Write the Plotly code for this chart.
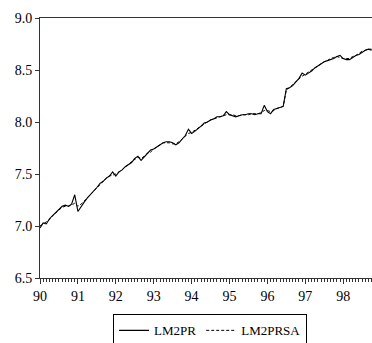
import plotly.graph_objects as go

# monthly observations 1990:01 - 1998:10
lm2pr = [6.98, 7.03, 7.02, 7.07, 7.10, 7.13, 7.15, 7.19, 7.20, 7.19, 7.21, 7.30,
         7.14, 7.19, 7.23, 7.27, 7.30, 7.33, 7.37, 7.41, 7.43, 7.46, 7.48, 7.52,
         7.48, 7.52, 7.54, 7.57, 7.59, 7.61, 7.65, 7.67, 7.63, 7.66, 7.69, 7.73,
         7.74, 7.76, 7.78, 7.80, 7.81, 7.81, 7.80, 7.78, 7.80, 7.84, 7.87, 7.93,
         7.89, 7.91, 7.94, 7.96, 7.99, 8.00, 8.02, 8.03, 8.05, 8.05, 8.06, 8.10,
         8.07, 8.06, 8.05, 8.06, 8.07, 8.07, 8.08, 8.08, 8.07, 8.08, 8.08, 8.16,
         8.10, 8.08, 8.12, 8.13, 8.14, 8.15, 8.32, 8.33, 8.35, 8.38, 8.42, 8.47,
         8.45, 8.47, 8.49, 8.52, 8.54, 8.56, 8.58, 8.59, 8.60, 8.61, 8.63, 8.64,
         8.61, 8.60, 8.60, 8.62, 8.64, 8.65, 8.67, 8.69, 8.70, 8.69]

lm2prsa = [7.00, 7.02, 7.04, 7.06, 7.10, 7.13, 7.16, 7.18, 7.19, 7.19, 7.20, 7.22,
           7.19, 7.21, 7.24, 7.27, 7.30, 7.33, 7.37, 7.40, 7.43, 7.46, 7.48, 7.49,
           7.50, 7.52, 7.54, 7.57, 7.59, 7.62, 7.64, 7.66, 7.65, 7.67, 7.70, 7.71,
           7.74, 7.76, 7.78, 7.80, 7.80, 7.80, 7.79, 7.79, 7.81, 7.84, 7.86, 7.89,
           7.90, 7.92, 7.94, 7.96, 7.98, 8.00, 8.02, 8.03, 8.04, 8.05, 8.06, 8.07,
           8.07, 8.07, 8.06, 8.06, 8.07, 8.07, 8.07, 8.08, 8.08, 8.08, 8.09, 8.11,
           8.11, 8.10, 8.11, 8.13, 8.14, 8.15, 8.31, 8.33, 8.36, 8.39, 8.42, 8.44,
           8.46, 8.48, 8.50, 8.52, 8.54, 8.56, 8.58, 8.59, 8.61, 8.62, 8.63, 8.62,
           8.61, 8.61, 8.61, 8.63, 8.64, 8.66, 8.68, 8.69, 8.70, 8.70]

start_year = 90
x_vals = [start_year + i / 12 for i in range(len(lm2pr))]

x_tick_vals = [90, 91, 92, 93, 94, 95, 96, 97, 98]
x_tick_text = ["90", "91", "92", "93", "94", "95", "96", "97", "98"]
y_tick_vals = [6.5, 7.0, 7.5, 8.0, 8.5, 9.0]
y_tick_text = ["6.5", "7.0", "7.5", "8.0", "8.5", "9.0"]

font_family = "Liberation Serif, Times New Roman, serif"

fig = go.Figure()
fig.add_trace(go.Scatter(x=x_vals, y=lm2pr, mode="lines", name="LM2PR",
                         line=dict(color="black", width=1.1)))
fig.add_trace(go.Scatter(x=x_vals, y=lm2prsa, mode="lines", name="LM2PRSA",
                         line=dict(color="black", width=1, dash="3px,2px")))

fig.update_layout(
    width=372, height=343,
    margin=dict(l=40, r=0, t=17.5, b=64.7, autoexpand=False),
    paper_bgcolor="white", plot_bgcolor="white",
    font=dict(family=font_family, size=14, color="black"),
    showlegend=True,
    legend=dict(orientation="h", x=0.512, xanchor="center", y=-0.14, yanchor="top",
                bordercolor="black", borderwidth=1, bgcolor="white",
                font=dict(family=font_family, size=13, color="black"),
                itemwidth=30, tracegroupgap=0),
    xaxis=dict(range=[90, 98.76], tickvals=x_tick_vals, ticktext=x_tick_text,
               ticks="outside", ticklen=5, tickwidth=1, tickcolor="#333",
               showline=True, linecolor="#333", linewidth=1, mirror=True,
               showgrid=False, zeroline=False, automargin=False,
               tickfont=dict(size=14),
               minor=dict(dtick=1 / 12, tick0=90, ticks="outside", ticklen=3,
                          tickcolor="#333", tickwidth=1, showgrid=False)),
    yaxis=dict(range=[6.5, 9.0], tickvals=y_tick_vals, ticktext=y_tick_text,
               ticks="outside", ticklen=4, tickwidth=1, tickcolor="#333",
               showline=True, linecolor="#333", linewidth=1,
               tickfont=dict(size=14),
               showgrid=False, zeroline=False, automargin=False),
)

fig.write_html("out.html", config={"displayModeBar": False},
               post_script="document.body.style.margin='0';document.body.style.overflow='hidden';")
